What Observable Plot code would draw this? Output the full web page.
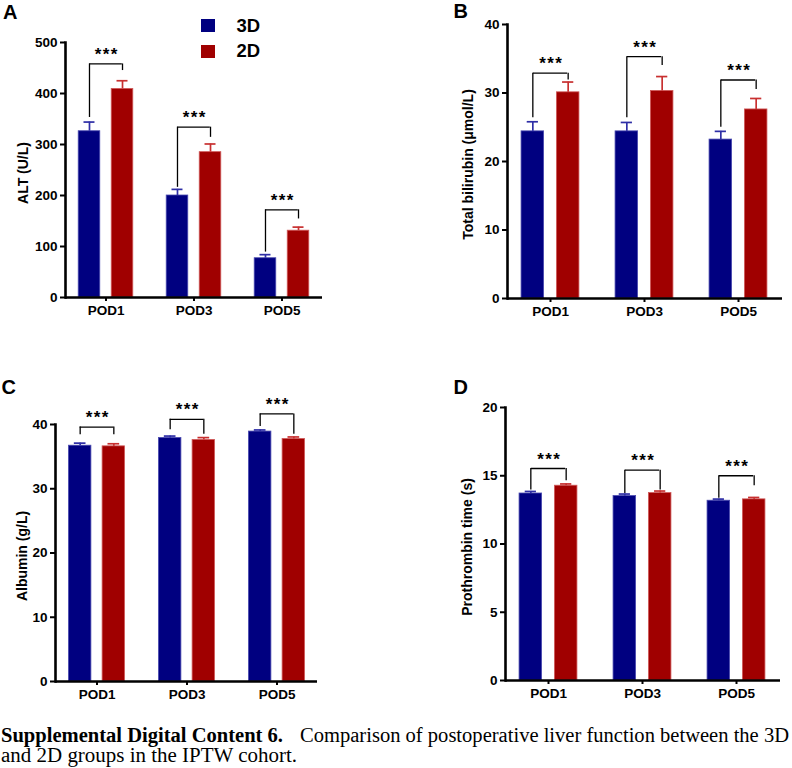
<!DOCTYPE html>
<html>
<head>
<meta charset="utf-8">
<script src="https://cdn.jsdelivr.net/npm/d3@7"></script>
<script src="https://cdn.jsdelivr.net/npm/@observablehq/plot@0.6"></script>
<style>
  body { margin: 0; background: #fff; }
  #wrap { position: relative; width: 792px; height: 768px; overflow: hidden; background: #fff;
          font-family: "Liberation Sans", Arial, sans-serif; }
  .letter { position: absolute; font-size: 20px; font-weight: bold; line-height: 1; color: #000; }
  .legtxt { position: absolute; font-size: 18.5px; font-weight: bold; line-height: 1; color: #000; }
  .legsw { position: absolute; width: 14px; height: 13px; }
</style>
</head>
<body>
<div id="wrap"></div>
<script>
// ---------- data ----------
const pods = ["POD1", "POD3", "POD5"];
const groups = ["3D", "2D"];

// A: ALT (U/L)
const altMean3D = [326, 200, 77];
const altErr3D  = [344, 212, 84];
const altMean2D = [409, 285, 131];
const altErr2D  = [425, 301, 138];
const altBracketTop   = [458, 334, 172];
const altBracketLeft  = [353, 216, 89];
const altBracketRight = [445, 314, 154];
const altTicks = [0, 100, 200, 300, 400, 500];

// B: Total bilirubin (µmol/L)
const tbMean3D = [24.4, 24.4, 23.2];
const tbErr3D  = [25.8, 25.7, 24.4];
const tbMean2D = [30.1, 30.3, 27.6];
const tbErr2D  = [31.6, 32.4, 29.2];
const tbBracketTop   = [32.9, 35.3, 31.9];
const tbBracketLeft  = [26.4, 26.4, 25.0];
const tbBracketRight = [31.9, 34.0, 30.5];
const tbTicks = [0, 10, 20, 30, 40];

// C: Albumin (g/L)
const albMean3D = [36.7, 37.9, 38.9];
const albErr3D  = [37.1, 38.2, 39.15];
const albMean2D = [36.6, 37.6, 37.75];
const albErr2D  = [37.0, 37.96, 38.06];
const albBracketTop   = [39.6, 40.8, 41.65];
const albBracketLeft  = [38.4, 39.2, 39.7];
const albBracketRight = [38.4, 38.5, 38.5];
const albTicks = [0, 10, 20, 30, 40];

// D: Prothrombin time (s)
const ptMean3D = [13.7, 13.51, 13.17];
const ptErr3D  = [13.85, 13.66, 13.29];
const ptMean2D = [14.27, 13.73, 13.27];
const ptErr2D  = [14.4, 13.88, 13.41];
const ptBracketTop   = [15.53, 15.41, 15.0];
const ptBracketLeft  = [13.95, 13.7, 13.36];
const ptBracketRight = [14.63, 13.95, 14.27];
const ptTicks = [0, 5, 10, 15, 20];

const sigLabel = "*\u200A*\u200A*";
const captionBold = "Supplemental Digital Content 6.";
const captionRest1 = "Comparison of postoperative liver function between the 3D";
const captionLine2 = "and 2D groups in the IPTW cohort.";

// ---------- style ----------
const fill3D = "#000080", fill2D = "#a00000";
const edge3D = "#4a4ab0", edge2D = "#d05a5a";
const err3D = "#2e2ea6", err2D = "#c83030";

const wrap = document.getElementById("wrap");

function panel(cfg) {
  const [mt, mr, mb, ml] = cfg.margins;
  const innerW = cfg.width - ml - mr;
  const PI = 0.105;
  const step = innerW / (pods.length - PI);
  const bw = step * (1 - PI);
  const barW = 0.248 * step;
  const off = 0.186 * step;
  const barInset = (bw - barW) / 2;
  const capInset = (bw - 0.52 * barW) / 2;
  const brInset = (bw - 2 * off) / 2;

  const rows3 = pods.map((p, i) => ({pod: p, group: groups[0], mean: cfg.m3[i], err: cfg.e3[i]}));
  const rows2 = pods.map((p, i) => ({pod: p, group: groups[1], mean: cfg.m2[i], err: cfg.e2[i]}));
  const br = pods.map((p, i) => ({pod: p, top: cfg.bt[i], l: cfg.bl[i], r: cfg.br[i]}));

  const svg = Plot.plot({
    width: cfg.width,
    height: cfg.height,
    marginTop: mt, marginRight: mr, marginBottom: mb, marginLeft: ml,
    style: {fontFamily: "'Liberation Sans', Arial, sans-serif", fontSize: "13.5px", fontWeight: "bold", color: "#000", background: "transparent", overflow: "visible"},
    x: {domain: pods, paddingInner: PI, paddingOuter: 0, align: 0.5},
    y: {domain: [0, cfg.yMax]},
    marks: [
      Plot.barY(rows3, {x: "pod", y: "mean", dx: -off, insetLeft: barInset, insetRight: barInset, fill: fill3D, stroke: edge3D, strokeWidth: 0.8}),
      Plot.barY(rows2, {x: "pod", y: "mean", dx: off, insetLeft: barInset, insetRight: barInset, fill: fill2D, stroke: edge2D, strokeWidth: 0.8}),
      Plot.ruleX(rows3, {x: "pod", y1: "mean", y2: "err", dx: -off, stroke: err3D, strokeWidth: 1.7}),
      Plot.ruleX(rows2, {x: "pod", y1: "mean", y2: "err", dx: off, stroke: err2D, strokeWidth: 1.7}),
      Plot.tickY(rows3, {x: "pod", y: "err", dx: -off, insetLeft: capInset, insetRight: capInset, stroke: err3D, strokeWidth: 1.7}),
      Plot.tickY(rows2, {x: "pod", y: "err", dx: off, insetLeft: capInset, insetRight: capInset, stroke: err2D, strokeWidth: 1.7}),
      Plot.tickY(br, {x: "pod", y: "top", insetLeft: brInset, insetRight: brInset, stroke: "#000", strokeWidth: 1.3}),
      Plot.ruleX(br, {x: "pod", y1: "l", y2: "top", dx: -off, stroke: "#000", strokeWidth: 1.3}),
      Plot.ruleX(br, {x: "pod", y1: "r", y2: "top", dx: off, stroke: "#000", strokeWidth: 1.3}),
      Plot.text(br, {x: "pod", y: "top", text: () => sigLabel, dy: -4, lineAnchor: "bottom", fontSize: 17, fill: "#000"}),
      Plot.axisX({tickSize: 4, tickPadding: 4, strokeWidth: 2, label: null, fill: "#000", fontSize: 13.5}),
      Plot.axisY({ticks: cfg.yTicks, tickSize: 5, tickPadding: 3, strokeWidth: 2, label: null, fill: "#000", fontSize: 13.5}),
      Plot.text([cfg.yLabel], {frameAnchor: "left", textAnchor: "middle", rotate: -90, dx: -cfg.labelDx, dy: 3, fontSize: 14, fill: "#000"}),
      Plot.frame({anchor: "left", stroke: "#000", strokeWidth: 2.6}),
      Plot.ruleY([0], {stroke: "#000", strokeWidth: 2.6})
    ]
  });
  svg.style.position = "absolute";
  svg.style.left = cfg.left + "px";
  svg.style.top = cfg.top + "px";
  wrap.appendChild(svg);
}

panel({left: 0, top: 0, width: 330, height: 330, margins: [42, 8, 33, 65], yMax: 500, yTicks: altTicks,
  yLabel: "ALT (U/L)", labelDx: 42, m3: altMean3D, e3: altErr3D, m2: altMean2D, e2: altErr2D,
  bt: altBracketTop, bl: altBracketLeft, br: altBracketRight});
panel({left: 400, top: 0, width: 392, height: 330, margins: [24, 10, 32, 107], yMax: 40, yTicks: tbTicks,
  yLabel: "Total bilirubin (μmol/L)", labelDx: 39, m3: tbMean3D, e3: tbErr3D, m2: tbMean2D, e2: tbErr2D,
  bt: tbBracketTop, bl: tbBracketLeft, br: tbBracketRight});
panel({left: 0, top: 380, width: 330, height: 330, margins: [44, 13, 29, 55], yMax: 40, yTicks: albTicks,
  yLabel: "Albumin (g/L)", labelDx: 33, m3: albMean3D, e3: albErr3D, m2: albMean2D, e2: albErr2D,
  bt: albBracketTop, bl: albBracketLeft, br: albBracketRight});
panel({left: 400, top: 380, width: 392, height: 330, margins: [27, 12, 30, 105], yMax: 20, yTicks: ptTicks,
  yLabel: "Prothrombin time (s)", labelDx: 38, m3: ptMean3D, e3: ptErr3D, m2: ptMean2D, e2: ptErr2D,
  bt: ptBracketTop, bl: ptBracketLeft, br: ptBracketRight});

// panel letters
[["A", 3, 2], ["B", 453.5, 1], ["C", 1.5, 377], ["D", 453.5, 377]].forEach(([t, x, y]) => {
  const d = document.createElement("div");
  d.className = "letter"; d.textContent = t;
  d.style.left = x + "px"; d.style.top = y + "px";
  wrap.appendChild(d);
});

// legend
[[groups[0], fill3D, 19, 16.7], [groups[1], fill2D, 45, 42]].forEach(([t, c, sy, ty]) => {
  const s = document.createElement("div");
  s.className = "legsw"; s.style.background = c; s.style.left = "201px"; s.style.top = sy + "px";
  wrap.appendChild(s);
  const d = document.createElement("div");
  d.className = "legtxt"; d.textContent = t; d.style.left = "236.5px"; d.style.top = ty + "px";
  wrap.appendChild(d);
});

// caption
const ns = "http://www.w3.org/2000/svg";
const cap = document.createElementNS(ns, "svg");
cap.setAttribute("width", 792); cap.setAttribute("height", 48);
cap.style.position = "absolute"; cap.style.left = "0px"; cap.style.top = "720px";
function capText(str, x, y, len, bold) {
  const t = document.createElementNS(ns, "text");
  t.setAttribute("x", x); t.setAttribute("y", y);
  t.setAttribute("font-family", "'Liberation Serif', 'Times New Roman', serif");
  t.setAttribute("font-size", 20);
  if (bold) t.setAttribute("font-weight", "bold");
  t.setAttribute("textLength", len);
  t.setAttribute("lengthAdjust", "spacingAndGlyphs");
  t.setAttribute("fill", "#000");
  t.textContent = str;
  cap.appendChild(t);
}
capText(captionBold, 1, 21.5, 282, true);
capText(captionRest1, 300, 21.5, 489, false);
capText(captionLine2, 1, 42, 296, false);
wrap.appendChild(cap);
</script>
</body>
</html>
